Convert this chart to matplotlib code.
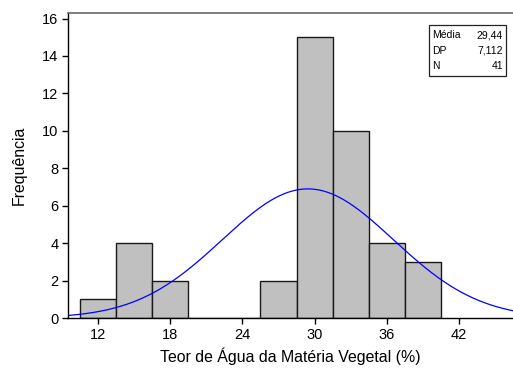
import numpy as np
import matplotlib
matplotlib.use("Agg")
import matplotlib.pyplot as plt

plt.rcParams['font.family'] = ['Liberation Sans', 'DejaVu Sans']

# Histogram of water content (bins of width 3)
bin_edges = [10.5, 13.5, 16.5, 19.5, 22.5, 25.5, 28.5, 31.5, 34.5, 37.5, 40.5]
counts = [1, 4, 2, 0, 0, 2, 15, 10, 4, 3]
x_ticks = [12, 18, 24, 30, 36, 42]
y_ticks = [0, 2, 4, 6, 8, 10, 12, 14, 16]

mean = 29.44
sd = 7.112
n = 41

fig = plt.figure(figsize=(5.13, 3.70), dpi=100)
ax = fig.add_axes([0.1326, 0.1405, 0.8674, 0.8245])

edges = np.array(bin_edges)
widths = np.diff(edges)
ax.bar(edges[:-1], counts, width=widths, align='edge',
       color='#c0c0c0', edgecolor='#1a1a1a', linewidth=1.0, zorder=2)

# Fitted normal curve scaled to the histogram counts
xlim = (9.5, 46.5)
xs = np.linspace(xlim[0], xlim[1], 400)
bw = widths[0]
pdf = n * bw / (sd * np.sqrt(2 * np.pi)) * np.exp(-0.5 * ((xs - mean) / sd) ** 2)
ax.plot(xs, pdf, color='#0000ff', linewidth=0.9, zorder=3)

ax.set_xlim(*xlim)
ax.set_ylim(0, 16.3)
ax.set_xticks(x_ticks)
ax.set_yticks(y_ticks)
ax.tick_params(axis='both', direction='out', length=4, width=1,
               labelsize=10.5, colors='black', pad=3)

ax.spines['right'].set_visible(False)
ax.spines['top'].set_color('#666666')
ax.spines['top'].set_linewidth(1.2)
ax.spines['left'].set_linewidth(1.0)
ax.spines['bottom'].set_linewidth(1.0)

ax.set_xlabel('Teor de Água da Matéria Vegetal (%)', fontsize=11.4, labelpad=4)
ax.set_ylabel('Frequência', fontsize=11.4, labelpad=11)

# Summary statistics box
bx0, by0, bx1, by1 = 429, 25, 506, 76
W, H = 513, 370
rect = plt.Rectangle((bx0 / W, 1 - by1 / H), (bx1 - bx0) / W, (by1 - by0) / H,
                     transform=fig.transFigure, facecolor='white',
                     edgecolor='#222222', linewidth=0.9, zorder=5)
fig.patches.append(rect)
labels = ['Média', 'DP', 'N']
values = ['29,44', '7,112', '41']
for i, (lab, val) in enumerate(zip(labels, values)):
    yy = 1 - (35 + 15.7 * i) / H
    fig.text(432 / W, yy, lab, fontsize=7.5, va='center', ha='left', zorder=6)
    fig.text(503 / W, yy, val, fontsize=7.5, va='center', ha='right', zorder=6)

fig.savefig('out.png', dpi=100)
